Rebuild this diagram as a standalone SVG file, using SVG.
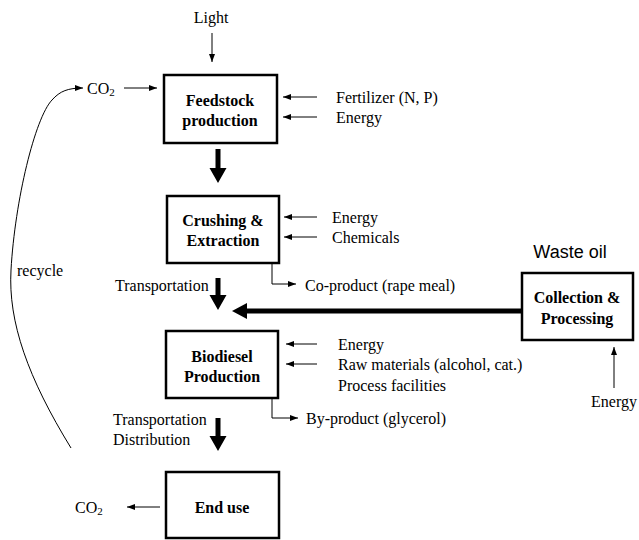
<svg xmlns="http://www.w3.org/2000/svg" width="639" height="540" viewBox="0 0 639 540">
  <defs>
    <style>
      .box { fill: #fff; stroke: #000; stroke-width: 2.5; }
      .bt { font-family: "Liberation Serif", serif; font-weight: bold; font-size: 16px; text-anchor: middle; dominant-baseline: central; fill: #000; }
      .t { font-family: "Liberation Serif", serif; font-size: 16px; dominant-baseline: central; fill: #000; }
      .s { font-family: "Liberation Sans", Arial, sans-serif; font-size: 18px; fill: #000; }
      .thin { stroke: #000; stroke-width: 1; fill: none; marker-end: url(#ah); }
      .thick { fill: #000; }
    </style>
    <marker id="ah" viewBox="0 0 8 6" refX="8" refY="3" markerWidth="8" markerHeight="6" markerUnits="userSpaceOnUse" orient="auto">
      <path d="M0,0 L8,3 L0,6 Z" fill="#000"/>
    </marker>
  </defs>
  <rect width="639" height="540" fill="#fff"/>

  <g id="feedstock">
    <rect class="box" x="164" y="75" width="113" height="68"/>
    <text class="bt" x="220" y="100">Feedstock</text>
    <text class="bt" x="220" y="120">production</text>
  </g>
  <g id="crushing">
    <rect class="box" x="167" y="196" width="112" height="67"/>
    <text class="bt" x="223" y="220">Crushing &amp;</text>
    <text class="bt" x="223" y="240">Extraction</text>
  </g>
  <g id="biodiesel">
    <rect class="box" x="166" y="331" width="112" height="67"/>
    <text class="bt" x="222" y="356">Biodiesel</text>
    <text class="bt" x="222" y="376">Production</text>
  </g>
  <g id="enduse">
    <rect class="box" x="166" y="472" width="113" height="66"/>
    <text class="bt" x="222" y="507">End use</text>
  </g>
  <g id="collection">
    <rect class="box" x="522" y="273" width="111" height="67"/>
    <text class="bt" x="577" y="297">Collection &amp;</text>
    <text class="bt" x="577" y="318">Processing</text>
  </g>

  <g id="labels">
    <text class="t" x="211" y="17" text-anchor="middle">Light</text>
    <text class="t" x="87" y="88">CO<tspan font-size="11" dy="4">2</tspan></text>
    <text class="t" x="75" y="507">CO<tspan font-size="11" dy="4">2</tspan></text>
    <text class="t" x="17" y="270">recycle</text>
    <text class="t" x="336" y="97">Fertilizer (N, P)</text>
    <text class="t" x="336" y="117">Energy</text>
    <text class="t" x="332" y="217">Energy</text>
    <text class="t" x="332" y="237">Chemicals</text>
    <text class="t" x="305" y="285">Co-product (rape meal)</text>
    <text class="t" x="115" y="285">Transportation</text>
    <text class="s" x="570" y="258" text-anchor="middle">Waste oil</text>
    <text class="t" x="338" y="344">Energy</text>
    <text class="t" x="338" y="364">Raw materials (alcohol, cat.)</text>
    <text class="t" x="338" y="385">Process facilities</text>
    <text class="t" x="306" y="418">By-product (glycerol)</text>
    <text class="t" x="113" y="419">Transportation</text>
    <text class="t" x="113" y="439">Distribution</text>
    <text class="t" x="591" y="401">Energy</text>
  </g>

  <g id="connectors">
    <line class="thin" x1="212" y1="33" x2="212" y2="62"/>
    <line class="thin" x1="124" y1="88" x2="157" y2="88"/>
    <line class="thin" x1="317" y1="97" x2="283" y2="97"/>
    <line class="thin" x1="317" y1="117" x2="283" y2="117"/>
    <line class="thin" x1="317" y1="217" x2="284" y2="217"/>
    <line class="thin" x1="317" y1="237" x2="284" y2="237"/>
    <polyline class="thin" points="272,263 272,284 296,284"/>
    <line class="thin" x1="317" y1="344" x2="286" y2="344"/>
    <line class="thin" x1="317" y1="364" x2="286" y2="364"/>
    <polyline class="thin" points="272,398 272,418 298,418"/>
    <line class="thin" x1="160" y1="507" x2="127" y2="507"/>
    <line class="thin" x1="614" y1="388" x2="614" y2="347"/>
    <path class="thin" d="M71,448 C28,378 8,322 11,270 C15,200 35,118 52,100 C60,91 68,88 83,88"/>
    <polygon class="thick" points="215.5,149 220.5,149 220.5,168 226.5,168 218,183 209.5,168 215.5,168"/>
    <polygon class="thick" points="215.5,278 220.5,278 220.5,295 226.5,295 218,310 209.5,295 215.5,295"/>
    <polygon class="thick" points="215.5,418 220.5,418 220.5,436 226.5,436 218,451 209.5,436 215.5,436"/>
    <polygon class="thick" points="522,308.5 522,313.5 247,313.5 247,319 232,311 247,303 247,308.5"/>
  </g>
</svg>
